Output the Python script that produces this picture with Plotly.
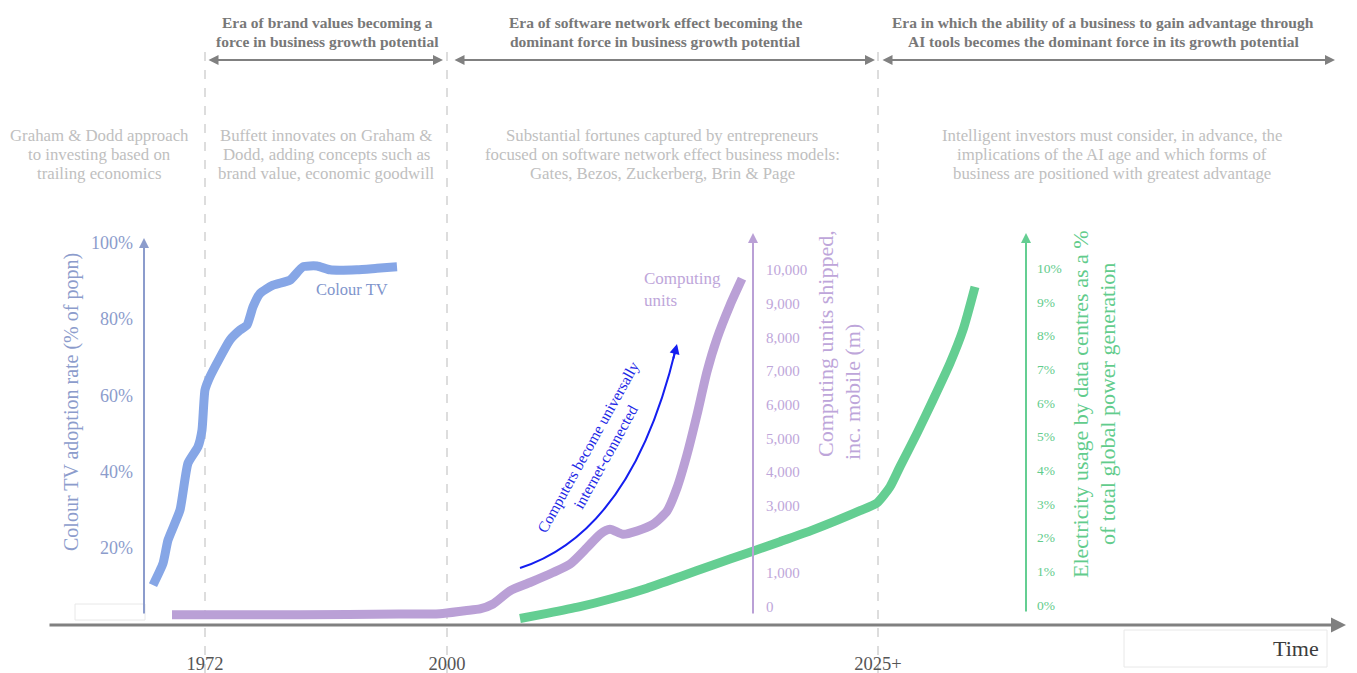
import plotly.graph_objects as go

W, H = 1357, 673          # page size
OX, OY = 8, 8             # page offset of the figure (browser body margin)
FW, FH = W - OX, H - OY   # figure size

# ---------------- data ----------------
# positions along the (non-linear) time axis, in layout units
era_marks = [205, 447, 878]
era_labels = ["1972", "2000", "2025+"]

tv_x = [153, 163, 168, 180, 188, 198, 202, 205, 210, 230, 240, 247, 253, 260, 273,
        290, 303, 317, 330, 357, 377, 397]
tv_pct = [10.2, 15.9, 22.0, 29.9, 42.2, 46.5, 50.9, 61.4, 64.9, 74.5, 77.1, 78.4, 83.2,
          86.7, 88.9, 90.2, 93.7, 93.9, 92.9, 92.9, 93.3, 93.7]

cu_x = [172, 300, 400, 440, 465, 480, 493, 510, 530, 553, 570, 587, 600, 610, 623,
        637, 653, 667, 677, 687, 697, 707, 717, 730, 742]
cu_units = [-237, -237, -220, -207, -118, -68, 80, 473, 719, 1015, 1263, 1754, 2151,
            2299, 2151, 2249, 2447, 2840, 3530, 4518, 5701, 6982, 7967, 8956, 9743]

el_x = [520, 547, 580, 613, 647, 680, 713, 747, 780, 813, 860, 877, 890, 900,
        917, 933, 950, 963, 975]
el_pct = [-0.40, -0.25, -0.05, 0.20, 0.50, 0.84, 1.19, 1.54, 1.88, 2.23, 2.80,
          3.03, 3.51, 4.11, 5.10, 6.09, 7.18, 8.17, 9.45]

tv_ticks = [20, 40, 60, 80, 100]
cu_ticks = [0, 1000, 3000, 4000, 5000, 6000, 7000, 8000, 9000, 10000]
el_ticks = list(range(0, 11))

# ---------------- styles ----------------
SERIF = "Liberation Serif"
TV_LINE = "rgb(134,166,230)"
TV_TXT = "rgb(140,156,204)"
CU_LINE = "rgb(186,160,214)"
CU_TXT = "rgb(190,166,218)"
EL_LINE = "rgb(100,206,146)"
EL_TXT = "rgb(98,204,140)"
GREY = "rgb(128,128,128)"
LIGHT = "rgb(192,192,192)"


def P(px, py):
    return (px - OX) / FW, 1 - (py - OY) / FH


def yrange(zero_px, unit_px):
    # value range so that value 0 sits at page row zero_px and one unit spans unit_px
    return [(zero_px - H) / unit_px, (zero_px - OY) / unit_px]


fig = go.Figure()
fig.add_trace(go.Scatter(x=tv_x, y=tv_pct, mode="lines", yaxis="y",
                         line=dict(color=TV_LINE, width=9, shape="spline", smoothing=0.5),
                         hoverinfo="skip"))
fig.add_trace(go.Scatter(x=cu_x, y=cu_units, mode="lines", yaxis="y2",
                         line=dict(color=CU_LINE, width=9, shape="spline", smoothing=0.6),
                         hoverinfo="skip"))
fig.add_trace(go.Scatter(x=el_x, y=el_pct, mode="lines", yaxis="y3",
                         line=dict(color=EL_LINE, width=9, shape="spline", smoothing=0.6),
                         hoverinfo="skip"))

common = dict(showgrid=False, zeroline=False, showline=False, ticks="", fixedrange=True)

fig.update_layout(
    width=FW, height=FH, margin=dict(l=0, r=0, t=0, b=0),
    paper_bgcolor="white", plot_bgcolor="white", showlegend=False,
    xaxis=dict(range=[OX, W], domain=[0, 1], anchor="free", position=P(0, 625)[1],
               tickvals=era_marks, ticktext=era_labels, ticklabelstandoff=25,
               tickfont=dict(family=SERIF, size=18.5, color="rgb(85,85,85)"), **common),
    yaxis=dict(range=yrange(624, 3.8125), domain=[0, 1], anchor="free", position=P(144, 0)[0],
               side="left", tickvals=tv_ticks, ticktext=[f"{v}%" for v in tv_ticks],
               ticklabelstandoff=11, tickfont=dict(family=SERIF, size=18, color=TV_TXT), **common),
    yaxis2=dict(range=yrange(606.7, 33.67 / 1000), domain=[0, 1], overlaying="y", anchor="free",
                position=P(753, 0)[0], side="right", tickvals=cu_ticks,
                ticktext=[f"{v:,}" for v in cu_ticks], ticklabelstandoff=12,
                tickfont=dict(family=SERIF, size=15, color=CU_TXT), **common),
    yaxis3=dict(range=yrange(605, 33.67), domain=[0, 1], overlaying="y", anchor="free",
                position=P(1025, 0)[0], side="right", tickvals=el_ticks,
                ticktext=[f"{v}%" for v in el_ticks], ticklabelstandoff=11,
                tickfont=dict(family=SERIF, size=13.5, color=EL_TXT), **common),
)

shapes = []
# dashed era dividers
for xm in era_marks:
    shapes.append(dict(type="line", xref="x", yref="paper", x0=xm, x1=xm, y0=0, y1=P(0, 50)[1],
                       line=dict(color="rgb(210,210,210)", width=1.5, dash="dash"), layer="below"))
# faint boxes
for (x0, y0, x1, y1) in [(1124, 630, 1327, 667), (75, 604, 145, 620)]:
    a = P(x0, y0); b = P(x1, y1)
    shapes.append(dict(type="rect", xref="paper", yref="paper", x0=a[0], y0=b[1], x1=b[0], y1=a[1],
                       line=dict(color="rgb(232,232,232)", width=1), layer="below"))
# blue curved arrow body
s = P(520, 568); c = P(632, 532); e = P(676, 348)
shapes.append(dict(type="path", xref="paper", yref="paper",
                   path=f"M {s[0]},{s[1]} Q {c[0]},{c[1]} {e[0]},{e[1]}",
                   line=dict(color="rgb(20,30,240)", width=2)))
fig.update_layout(shapes=shapes)

ann = []


def arrow(x_head, y_head, x_tail, y_tail, color, width, both=False, size=1.0):
    hx, hy = P(x_head, y_head)
    ann.append(dict(x=hx, y=hy, xref="paper", yref="paper", text="", showarrow=True,
                    ax=x_tail - x_head, ay=y_tail - y_head, axref="pixel", ayref="pixel",
                    arrowhead=2, arrowsize=size, arrowwidth=width, arrowcolor=color,
                    arrowside="end+start" if both else "end", startarrowhead=2,
                    startarrowsize=size))


def text(px, py, t, size, color, angle=0, bold=False, align="center", xanchor="center"):
    x, y = P(px, py)
    ann.append(dict(x=x, y=y, xref="paper", yref="paper", text=f"<b>{t}</b>" if bold else t,
                    showarrow=False, textangle=angle, align=align, xanchor=xanchor,
                    yanchor="middle", font=dict(family=SERIF, size=size, color=color)))


# era arrows
arrow(443, 60, 207, 60, GREY, 2, both=True)
arrow(875, 60, 453, 60, GREY, 2, both=True)
arrow(1335, 60, 881, 60, GREY, 2, both=True)
# x axis arrow
arrow(1346, 625, 48, 625, GREY, 3)
# y axis arrows
arrow(144, 238, 144, 615, TV_TXT, 2)
arrow(753, 233, 753, 615, CU_LINE, 2)
arrow(1026, 233, 1026, 613, EL_LINE, 2)
# blue arrow head
arrow(677, 344, 673, 360, "rgb(20,30,240)", 2, size=1.0)

ERA = "rgb(120,120,120)"
eras = [
    (327, ["Era of brand values becoming a", "force in business growth potential"]),
    (655, ["Era of software network effect becoming the", "dominant force in business growth potential"]),
    (1103, ["Era in which the ability of a business to gain advantage through",
            "AI tools becomes the dominant force in its growth potential"]),
]
for cx, lines in eras:
    for i, ln in enumerate(lines):
        text(cx, 23 + 19 * i, ln, 15.5, ERA, bold=True)

notes = [
    (99, ["Graham &amp; Dodd approach", "to investing based on", "trailing economics"]),
    (326, ["Buffett innovates on Graham &amp;", "Dodd, adding concepts such as",
           "brand value, economic goodwill"]),
    (662, ["Substantial fortunes captured by entrepreneurs",
           "focused on software network effect business models:",
           "Gates, Bezos, Zuckerberg, Brin &amp; Page"]),
    (1112, ["Intelligent investors must consider, in advance, the",
            "implications of the AI age and which forms of",
            "business are positioned with greatest advantage"]),
]
for cx, lines in notes:
    for i, ln in enumerate(lines):
        text(cx, 135 + 19 * i, ln, 16.8, LIGHT)

text(71, 402, "Colour TV adoption rate (% of popn)", 20, TV_TXT, angle=-90)
text(825, 344, "Computing units shipped,", 22, CU_TXT, angle=-90)
text(852, 392, "inc. mobile (m)", 22, CU_TXT, angle=-90)
text(1080, 404, "Electricity usage by data centres as a %", 22, EL_TXT, angle=-90)
text(1107, 404, "of total global power generation", 22, EL_TXT, angle=-90)

text(352, 289, "Colour TV", 16.5, "rgb(127,149,204)")
text(642, 289, "Computing<br>units", 17, CU_TXT, align="left", xanchor="left")
text(596, 452, "Computers become universally<br>internet-connected", 15.5, "rgb(30,40,230)", angle=-61)
text(1296, 648, "Time", 22, "rgb(60,60,60)")

fig.update_layout(annotations=ann)
fig.write_html("out.html")
